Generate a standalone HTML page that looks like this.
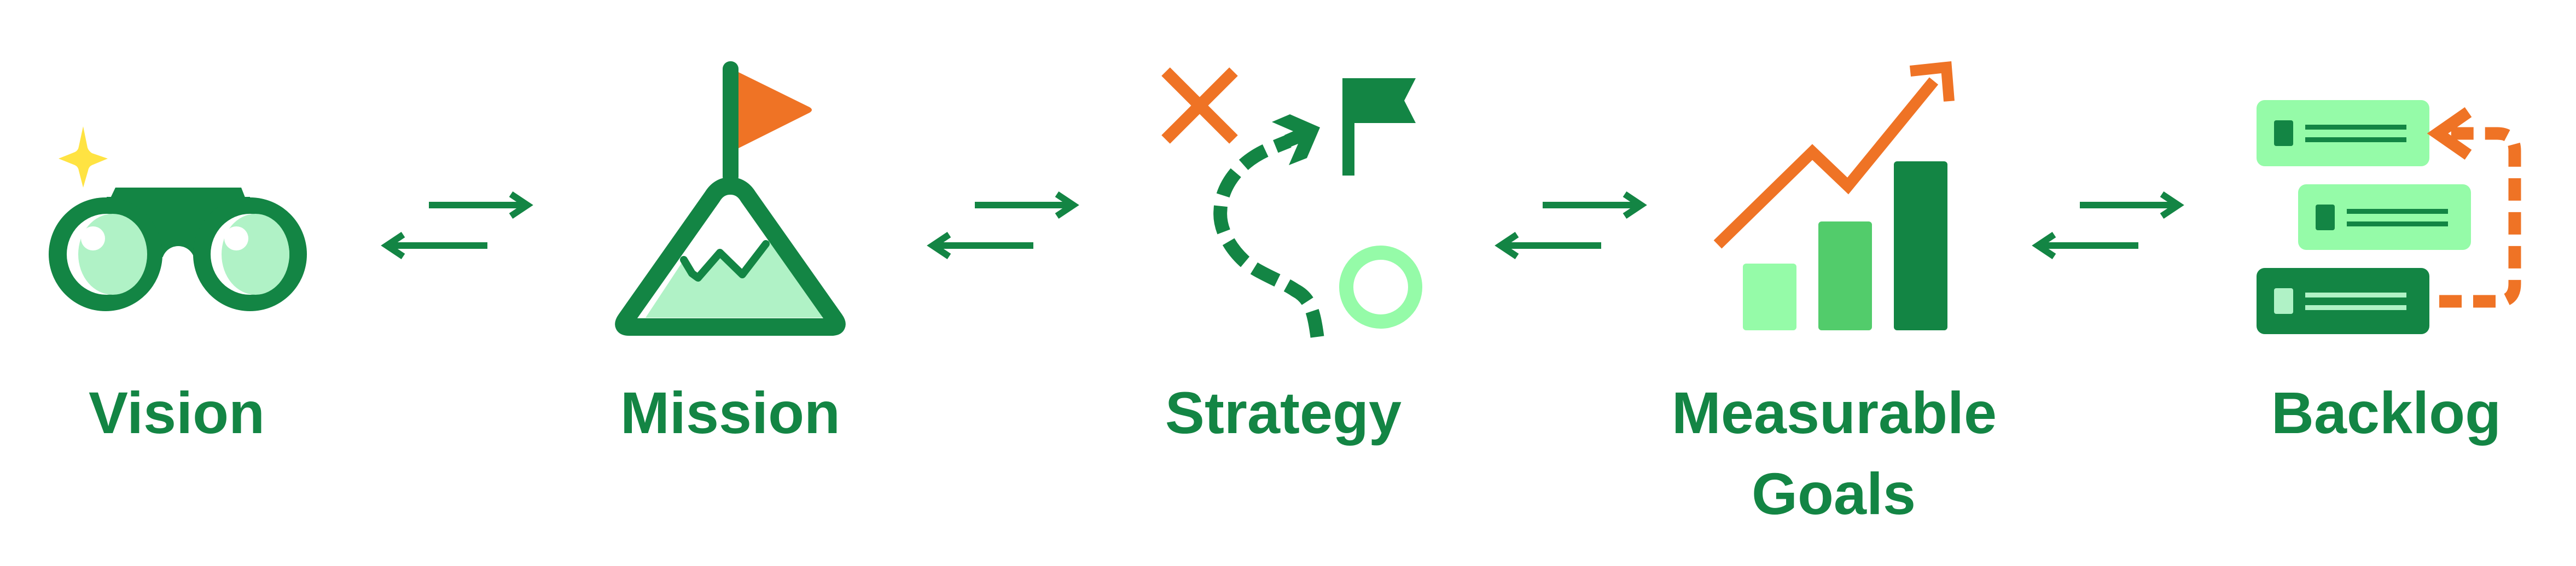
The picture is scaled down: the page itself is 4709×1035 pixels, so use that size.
<!DOCTYPE html>
<html><head><meta charset="utf-8"><style>
html,body{margin:0;padding:0;background:#fff;}
svg{display:block;}
text{font-family:"Liberation Sans",sans-serif;font-weight:bold;fill:#138544;font-size:108px;text-anchor:middle;}
</style></head><body>
<svg width="4709" height="1035" viewBox="0 0 4709 1035" xmlns="http://www.w3.org/2000/svg">
<defs>
<g id="arr">
<line x1="0" y1="0" x2="180" y2="0" stroke="#138544" stroke-width="12"/>
<polyline points="150,-20 180,0 150,20" fill="none" stroke="#138544" stroke-width="12" stroke-linejoin="miter"/>
<line x1="-77" y1="74" x2="107" y2="74" stroke="#138544" stroke-width="12"/>
<polyline points="-47,54 -77,74 -47,94" fill="none" stroke="#138544" stroke-width="12" stroke-linejoin="miter"/>
</g>
</defs>

<!-- Vision -->
<path d="M152,231 L160,270 Q162,276 168,280 L197,290 L168,302 Q162,305 161,312 L152,343 L144,312 Q143,305 137,302 L107,290 L137,278 Q143,275 144,268 Z" fill="#ffe342"/>
<path d="M211,343 L441,343 L450,366 L200,366 Z" fill="#138544"/>
<rect x="195" y="360" width="262" height="110" fill="#138544"/>
<circle cx="326" cy="480" r="30" fill="#fff"/>
<circle cx="193" cy="465" r="104" fill="#138544"/>
<circle cx="457" cy="465" r="104" fill="#138544"/>
<ellipse cx="195" cy="465" rx="73" ry="74" fill="#fff"/>
<ellipse cx="206" cy="465" rx="63" ry="74" fill="#b0f2c6"/>
<ellipse cx="170" cy="436" rx="22" ry="22" fill="#fff"/>
<ellipse cx="457" cy="465" rx="72" ry="74" fill="#fff"/>
<ellipse cx="467" cy="465" rx="62" ry="74" fill="#b0f2c6"/>
<ellipse cx="432" cy="436" rx="22" ry="22" fill="#fff"/>
<text x="323" y="792">Vision</text>

<use href="#arr" x="784" y="375"/>

<!-- Mission -->
<rect x="1321" y="112" width="29" height="225" rx="14" fill="#138544"/>
<path d="M1350,132 L1480,196 Q1488,201 1480,206 L1350,271 Z" fill="#ef7325"/>
<path d="M1250,475 L1276,508 L1316,462 L1357,502 L1400,446 L1412,428 L1510,581 L1180,581 Z" fill="#b0f2c6"/>
<polyline points="1250,475 1265,500 1276,508 1316,462 1357,502 1400,446" fill="none" stroke="#138544" stroke-width="14" stroke-linejoin="round" stroke-linecap="round"/>
<path d="M1335,340 Q1356,340 1368,360 L1526,584 Q1536,598 1520,598 L1150,598 Q1134,598 1144,584 L1302,360 Q1314,340 1335,340 Z" fill="none" stroke="#138544" stroke-width="32" stroke-linejoin="round"/>
<text x="1335" y="792">Mission</text>

<use href="#arr" x="1782" y="375"/>

<!-- Strategy -->
<g stroke="#ef7325" stroke-width="22">
<line x1="2131" y1="131" x2="2255" y2="255"/>
<line x1="2255" y1="131" x2="2131" y2="255"/>
</g>
<path d="M2408,616 C2402,570 2395,545 2368,531 C2340,512 2300,500 2274,477 C2245,450 2228,415 2231,384 C2232,345 2260,300 2314,275 L2356,258" fill="none" stroke="#138544" stroke-width="25" stroke-dasharray="48,20"/>
<polygon points="2325,223 2358,209 2413,233 2389,289 2356,302 2373,263 2358,269 2348,247 2364,240" fill="#138544"/>
<polygon points="2454,143 2588,143 2567,184 2588,225 2476,225 2476,321 2454,321" fill="#138544"/>
<circle cx="2524" cy="525" r="63" fill="none" stroke="#95fba8" stroke-width="26"/>
<text x="2346" y="792">Strategy</text>

<use href="#arr" x="2820" y="375"/>

<!-- Measurable Goals -->
<rect x="3186" y="482" width="98" height="122" rx="6" fill="#95fba8"/>
<rect x="3324" y="405" width="98" height="199" rx="6" fill="#52cc6b"/>
<rect x="3462" y="295" width="98" height="309" rx="6" fill="#138544"/>
<polyline points="3140,447 3313,278 3378,340 3535,148" fill="none" stroke="#ef7325" stroke-width="21"/>
<polyline points="3492,130 3558,123 3563,185" fill="none" stroke="#ef7325" stroke-width="20"/>
<text x="3353" y="792">Measurable</text>
<text x="3352" y="940">Goals</text>

<use href="#arr" x="3802" y="375"/>

<!-- Backlog -->
<rect x="4125" y="183" width="316" height="121" rx="15" fill="#95fba8"/>
<rect x="4157" y="220" width="35" height="47" rx="4" fill="#138544"/>
<rect x="4214" y="228" width="185" height="9" fill="#138544"/>
<rect x="4214" y="251" width="185" height="9" fill="#138544"/>
<rect x="4201" y="337" width="316" height="120" rx="15" fill="#95fba8"/>
<rect x="4233" y="374" width="35" height="47" rx="4" fill="#138544"/>
<rect x="4290" y="382" width="185" height="9" fill="#138544"/>
<rect x="4290" y="405" width="185" height="9" fill="#138544"/>
<rect x="4125" y="490" width="316" height="121" rx="15" fill="#138544"/>
<rect x="4157" y="527" width="35" height="47" rx="4" fill="#b0f2c6"/>
<rect x="4214" y="535" width="185" height="9" fill="#b0f2c6"/>
<rect x="4214" y="558" width="185" height="9" fill="#b0f2c6"/>
<path d="M4459,551 H4565 Q4597,551 4597,519 V276 Q4597,244 4565,244 H4470" fill="none" stroke="#ef7325" stroke-width="23" stroke-dasharray="41,21"/>
<polyline points="4512,205 4456,244 4512,283" fill="none" stroke="#ef7325" stroke-width="22"/>
<text x="4362" y="792">Backlog</text>
</svg>
</body></html>
